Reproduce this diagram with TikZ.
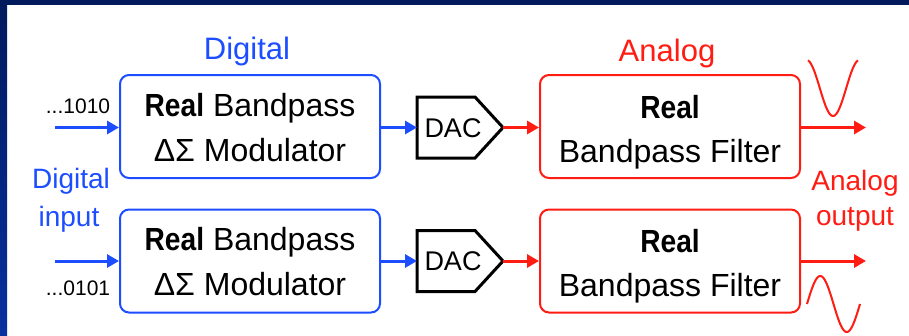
\documentclass[tikz,border=0pt]{standalone}
\usepackage{fontspec}
\usepackage{graphicx}
\setmainfont{Liberation Sans}
\usetikzlibrary{arrows.meta}
\definecolor{dblue}{RGB}{28,78,255}
\definecolor{dred}{RGB}{255,28,18}
\definecolor{navy}{RGB}{0,26,92}
\definecolor{navyb}{RGB}{8,48,160}
\newcommand{\realtxt}{\scalebox{0.88}[1]{\bfseries Real}}
\tikzset{
  bluebox/.style={draw=dblue, line width=2pt, rounded corners=9pt, minimum width=260pt, minimum height=103pt, inner sep=0pt},
  redbox/.style={draw=dred, line width=2pt, rounded corners=9pt, minimum width=260pt, minimum height=103pt, inner sep=0pt},
  boxtext/.style={font=\fontsize{32}{38}\selectfont, anchor=base, inner sep=0pt},
  bluearrow/.style={draw=dblue, line width=3pt, -{Triangle[length=12pt,width=13pt]}},
  redarrow/.style={draw=dred, line width=3pt, -{Triangle[length=12pt,width=13pt]}},
  dacshape/.style={draw=black, line width=3pt, line join=miter, fill=white},
  dactext/.style={font=\fontsize{27}{32}\selectfont, inner sep=0pt},
  bluelabel/.style={text=dblue, font=\fontsize{31}{36}\selectfont, anchor=base, inner sep=0pt},
  redlabel/.style={text=dred, font=\fontsize{31}{36}\selectfont, anchor=base, inner sep=0pt},
  sidelabel/.style={font=\fontsize{28}{34}\selectfont, anchor=base, inner sep=0pt},
  bitlabel/.style={font=\fontsize{21}{25}\selectfont, anchor=base, inner sep=0pt},
  wave/.style={draw=dred, line width=2pt, smooth}
}
\begin{document}
\begin{tikzpicture}[x=1pt, y=-1pt]
\useasboundingbox (0,0) rectangle (909,335);
\fill[white] (0,0) rectangle (909,335);
\fill[navy] (0,0) rectangle (909,5);
\shade[top color=navy, bottom color=navyb] (0,0) rectangle (7,335);

% headings
\node[bluelabel] (hdig) at (247,59) {Digital};
\node[redlabel] (hana) at (667,61) {Analog};

% top row
\node[bluebox] (mod1) at (250,126.5) {};
\node[boxtext] (mod1a) at (250,116) {\realtxt{} Bandpass};
\node[boxtext] (mod1b) at (250,161) {ΔΣ Modulator};
\node[redbox] (fil1) at (670,126.5) {};
\node[boxtext] (fil1a) at (670,118) {\realtxt};
\node[boxtext] (fil1b) at (670,162) {Bandpass Filter};

% bottom row
\node[bluebox] (mod2) at (250,261) {};
\node[boxtext] (mod2a) at (250,250.5) {\realtxt{} Bandpass};
\node[boxtext] (mod2b) at (250,295.5) {ΔΣ Modulator};
\node[redbox] (fil2) at (670,261) {};
\node[boxtext] (fil2a) at (670,252.5) {\realtxt};
\node[boxtext] (fil2b) at (670,296.5) {Bandpass Filter};

% DACs
\coordinate (dac1w) at (417,127.5);
\coordinate (dac1e) at (503,127.5);
\draw[dacshape] (417,97) -- (475,97) -- (dac1e) -- (475,158) -- (417,158) -- cycle;
\node[dactext] (dac1) at (453,128) {DAC};
\coordinate (dac2w) at (417,261);
\coordinate (dac2e) at (503,261);
\draw[dacshape] (417,230.5) -- (475,230.5) -- (dac2e) -- (475,291.5) -- (417,291.5) -- cycle;
\node[dactext] (dac2) at (453,261.5) {DAC};

% inputs
\coordinate (in1) at (55,127.5);
\coordinate (in2) at (55,261);
\node[bitlabel] (b1) at (78,113) {...1010};
\node[bitlabel] (b2) at (78,295) {...0101};
\node[sidelabel, text=dblue] (din1) at (71,188) {Digital};
\node[sidelabel, text=dblue] (din2) at (69,226) {input};

% outputs
\coordinate (out1) at (866,127.5);
\coordinate (out2) at (866,261);
\node[sidelabel, text=dred] (aout1) at (855,190) {Analog};
\node[sidelabel, text=dred] (aout2) at (855,225) {output};

% connectors
\draw[bluearrow] (in1) -- (mod1.west |- in1);
\draw[bluearrow] (in2) -- (mod2.west |- in2);
\draw[bluearrow] (mod1.east |- dac1w) -- (dac1w);
\draw[bluearrow] (mod2.east |- dac2w) -- (dac2w);
\draw[redarrow] (dac1e) -- (fil1.west |- dac1e);
\draw[redarrow] (dac2e) -- (fil2.west |- dac2e);
\draw[redarrow] (fil1.east |- out1) -- (out1);
\draw[redarrow] (fil2.east |- out2) -- (out2);

% waves (parameter t in degrees of phase; 53/360 = 0.147222)
\draw[wave] plot[variable=\t, domain=-170:170, samples=60] ({833+0.147222*\t}, {88+28*cos(\t)});
\draw[wave] plot[variable=\t, domain=0:360, samples=60] ({807+0.147222*\t}, {304-28*sin(\t)});
\end{tikzpicture}
\end{document}
